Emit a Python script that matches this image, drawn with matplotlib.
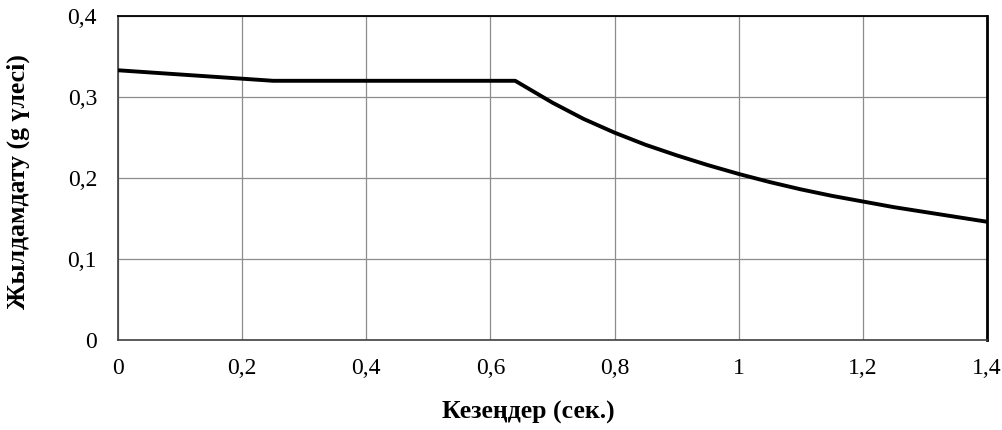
import numpy as np
import matplotlib
matplotlib.use('Agg')
import matplotlib.pyplot as plt
from matplotlib.ticker import FuncFormatter

# spectrum
period = [0.0, 0.25, 0.64, 0.70, 0.75, 0.80, 0.85, 0.90, 0.95, 1.00,
          1.05, 1.10, 1.15, 1.20, 1.25, 1.30, 1.35, 1.40]
accel = [0.333, 0.320, 0.320, 0.293, 0.273, 0.256, 0.241, 0.228, 0.216, 0.205,
         0.195, 0.186, 0.178, 0.171, 0.164, 0.158, 0.152, 0.146]

xticks = [0, 0.2, 0.4, 0.6, 0.8, 1.0, 1.2, 1.4]
yticks = [0, 0.1, 0.2, 0.3, 0.4]
xlabel = 'Кезеңдер (сек.)'
ylabel = 'Жылдамдату (g үлесі)'

plt.rcParams['font.family'] = ['Liberation Serif', 'DejaVu Serif']

def comma(v, pos):
    s = '%g' % round(v, 2)
    return s.replace('.', ',')

fig = plt.figure(figsize=(10.03, 4.30), dpi=100)
ax = fig.add_axes([0.1176, 0.2093, 0.8664, 0.7535])

ax.plot(period, accel, color='black', lw=2.8, solid_joinstyle='round', zorder=3)

ax.set_xlim(0, 1.4)
ax.set_ylim(0, 0.4)
ax.set_xticks(xticks)
ax.set_yticks(yticks)
ax.xaxis.set_major_formatter(FuncFormatter(comma))
ax.yaxis.set_major_formatter(FuncFormatter(comma))
ax.grid(True, color='#8c8c8c', lw=0.9)
ax.tick_params(length=0, labelsize=17, colors='black')
ax.tick_params(axis='x', pad=13)
ax.tick_params(axis='y', pad=15)

for s in ['left', 'bottom']:
    ax.spines[s].set_color('#404040')
    ax.spines[s].set_linewidth(1.2)
ax.spines['top'].set_color('black')
ax.spines['top'].set_linewidth(1.3)
ax.spines['right'].set_color('black')
ax.spines['right'].set_linewidth(2.0)

fig.text(528/1003, 0.04, xlabel, ha='center', va='center', fontsize=18.5, fontweight='bold')
fig.text(18/1003, 1 - 182/430, ylabel, ha='center', va='center', rotation=90,
         fontsize=18.5, fontweight='bold')

fig.savefig('out.png', dpi=100)
